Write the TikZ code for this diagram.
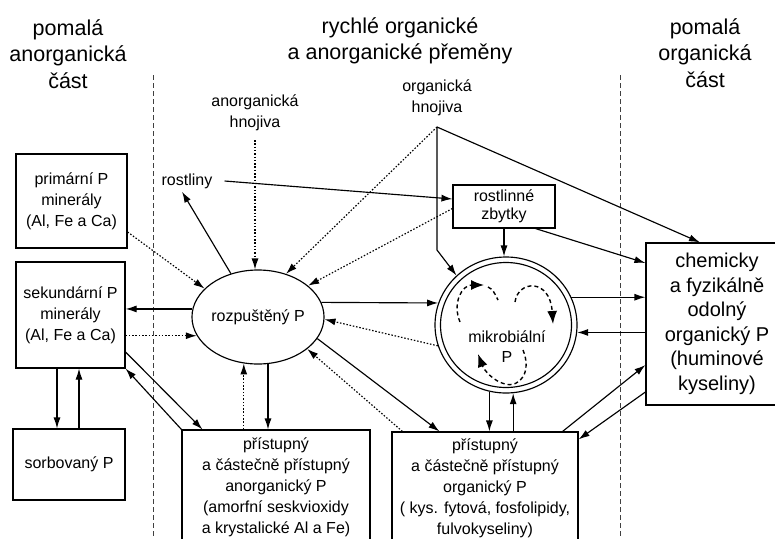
\documentclass[tikz,border=0pt]{standalone}
\usepackage{fontspec}
\setmainfont{Liberation Sans}
\usetikzlibrary{arrows.meta,shapes.geometric}
\begin{document}
\begin{tikzpicture}[x=1pt,y=-1pt,
  ar/.style={-{Latex[length=11pt,width=7pt]}, line width=1.15pt},
  dt/.style={ar, dash pattern=on 1.5pt off 1.8pt},
  box/.style={draw, line width=1.15pt, rectangle, inner sep=0pt, align=center, font=\fontsize{16}{21}\selectfont},
  lbl/.style={align=center, font=\fontsize{16}{20.5}\selectfont, inner sep=1pt},
  ttl/.style={align=center, font=\fontsize{21.5}{26.5}\selectfont},
  sepline/.style={line width=0.9pt, dash pattern=on 5pt off 3pt, black!75},
  cyc/.style={line width=1.4pt, dash pattern=on 4pt off 3pt, -{Latex[length=13pt,width=10pt]}},
  cycplain/.style={line width=1.4pt, dash pattern=on 4pt off 3pt},
]
\clip (0,0) rectangle (775,538);
\fill[white] (0,0) rectangle (775,538);

% titles
\node[ttl] (t1) at (68,54) {pomalá\\anorganická\\část};
\node[ttl] (t2) at (400,41) {rychlé organické\\a anorganické přeměny};
\node[ttl] (t3) at (705,53) {pomalá\\organická\\část};

% separators
\draw[sepline] (153,75) -- (153,538);
\draw[sepline] (620,75) -- (620,538);

% boxes
\node[box, minimum width=111pt, minimum height=94pt] (prim) at (71.5,201) {primární P\\minerály\\(Al, Fe a Ca)};
\node[box, minimum width=109pt, minimum height=106pt] (sek) at (70.5,315) {sekundární P\\minerály\\(Al, Fe a Ca)};
\node[box, minimum width=112pt, minimum height=71pt] (sorb) at (69,464.5) {sorbovaný P};
\node[draw, ellipse, line width=1.15pt, minimum width=130pt, minimum height=94pt, inner sep=0pt, font=\fontsize{16}{21}\selectfont] (ell) at (258,317) {rozpuštěný P};
\node[box, minimum width=188pt, minimum height=115pt] (inbox) at (276,487.5) {přístupný\\a částečně přístupný\\anorganický P\\(amorfní seskvioxidy\\a krystalické Al a Fe)};
\node[box, minimum width=186pt, minimum height=113pt] (orgbox) at (485,488.5) {přístupný\\a částečně přístupný\\organický P\\( kys. fytová, fosfolipidy,\\fulvokyseliny)};
\node[box, minimum width=102pt, minimum height=43pt, font=\fontsize{16}{18}\selectfont] (zb) at (504,206.5) {rostlinné\\zbytky};
\node[draw, ellipse, line width=1.15pt, minimum width=142pt, minimum height=136pt, inner sep=0pt] (circ) at (506,325) {};
\draw[line width=1.15pt] (circ.center) ellipse [x radius=65.5pt, y radius=62.5pt];
\node[align=center, font=\fontsize{16}{20}\selectfont, inner sep=0pt] (mik) at (507,347) {mikrobiální\\P};
\node[box, minimum width=142pt, minimum height=162pt, font=\fontsize{20}{24.5}\selectfont] (chem) at (717,324) {chemicky\\a fyzikálně\\odolný\\organický P\\(huminové\\kyseliny)};

% labels
\node[lbl] (ahn) at (255,113) {anorganická\\hnojiva};
\coordinate (ahp) at (255,140);
\node[lbl] (ohn) at (437,98) {organická\\hnojiva};
\coordinate (ohp) at (437,127);
\node[lbl, inner sep=3pt] (rost) at (187,181) {rostliny};

% connectors
\draw[ar] ([xshift=9pt]rost.east) -- (zb.west |- 0,199);
\draw[ar] (ell.122) -- ([xshift=-5pt]rost.south);
\draw[dt] (ahp) -- (ahp |- ell.north);
\draw[dt] (ohp) -- (ell.57);
\draw[dt] ([yshift=-2pt]zb.west) -- (ell.32);
\draw[ar] (ohp) -- (ohp |- 0,250) -- (circ.135);
\draw[ar] (ohp) -- ([xshift=-17pt]chem.north);
\draw[ar] ([xshift=-20pt]zb.south east) -- (chem.west |- 0,263);
\draw[ar] (zb.south) -- (zb.south |- circ.north);
\draw[ar] (ell.13) -- (circ.162);
\draw[dt] (circ.197) -- (ell.-2);
\draw[ar] (ell.-20) -- ([xshift=48pt]orgbox.north west);
\draw[dt] ([xshift=11pt]orgbox.north west) -- (ell.-33);
\draw[ar] (ell.-78) -- (ell.-78 |- inbox.north);
\draw[dt] (ell.-107 |- inbox.north) -- (ell.-107);
\draw[ar] (ell.173) -- (ell.173 -| sek.east);
\draw[dt] (ell.197 -| sek.east) -- (ell.197);
\draw[dt] (prim.east |- 0,232) -- (ell.152);
\draw[ar] (sek.east |- 0,352) -- ([xshift=21pt]inbox.north west);
\draw[ar] (inbox.north west) -- (sek.south east);
\coordinate (d1) at ([xshift=-13.5pt]sek.south);
\coordinate (u1) at ([xshift=8.5pt]sek.south);
\draw[ar] (d1) -- (d1 |- sorb.north);
\draw[ar] (u1 |- sorb.north) -- (u1);
\draw[ar] (circ.23) -- (circ.23 -| chem.west);
\draw[ar] (circ.-6 -| chem.west) -- (circ.-6);
\draw[ar] (circ.-104) -- (circ.-104 |- orgbox.north);
\draw[ar] (circ.-84 |- orgbox.north) -- (circ.-84);
\draw[ar] ([xshift=-16pt]orgbox.north east) -- (chem.west |- 0,365);
\draw[ar] (chem.west |- 0,392) -- ([yshift=-8pt]orgbox.north east);

% internal cycle
\draw[cyc] (460,322) .. controls (452,303) and (462,285) .. (484,285);
\draw[cycplain] (488,287) .. controls (493,290) .. (498,300);
\draw[cyc] (515,302) .. controls (518,280) and (550,278) .. (553,324);
\draw[cyc] (523,350) .. controls (532,372) and (520,388) .. (505,384) .. controls (493,381) and (484,370) .. (478,354);
\end{tikzpicture}
\end{document}
